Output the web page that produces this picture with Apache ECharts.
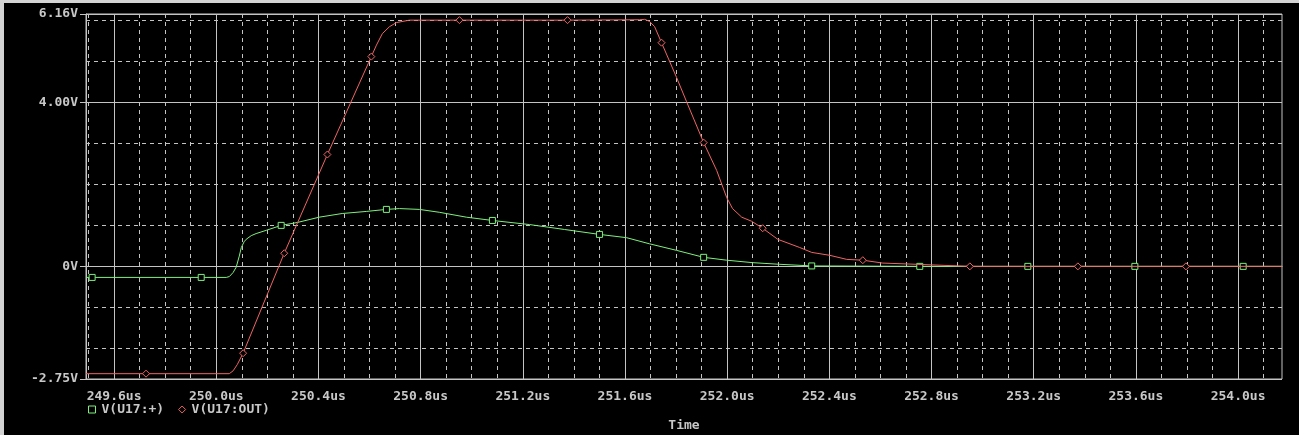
<!DOCTYPE html>
<html><head><meta charset="utf-8">
<script src="https://cdn.jsdelivr.net/npm/echarts@6/dist/echarts.min.js"></script>
<style>
html,body{margin:0;padding:0;background:#d4d4d4;overflow:hidden;width:1299px;height:435px;}
#chart{position:absolute;left:4px;top:3px;width:1295px;height:432px;background:#000;}
</style></head><body><div id="chart"></div>
<script>
// ---- data ----
const xTickValues = [249.6, 250.0, 250.4, 250.8, 251.2, 251.6, 252.0, 252.4, 252.8, 253.2, 253.6, 254.0];
const xTickLabels = ['249.6us','250.0us','250.4us','250.8us','251.2us','251.6us','252.0us','252.4us','252.8us','253.2us','253.6us','254.0us'];
const xMinorValues = [249.5,249.7,249.8,249.9,250.1,250.2,250.3,250.5,250.6,250.7,250.9,251.0,251.1,251.3,251.4,251.5,251.7,251.8,251.9,252.1,252.2,252.3,252.5,252.6,252.7,252.9,253.0,253.1,253.3,253.4,253.5,253.7,253.8,253.9,254.1];
const yTickValues = [-2.75, 0, 4, 6.16];
const yTickLabels = ['-2.75V', '0V', '4.00V', '6.16V'];
const yMinorValues = [-2, -1, 1, 2, 3, 5, 6];
const xRange = [249.49, 254.172];
const yRange = [-2.75, 6.16];
const seriesNames = ['V(U17:+)', 'V(U17:OUT)'];
const axisTitle = 'Time';

const plusTime = [249.490,249.514,249.941,250.039,250.051,250.066,250.078,250.090,250.098,250.109,250.117,250.137,250.156,250.196,250.254,250.317,250.403,250.493,250.587,250.666,250.717,250.795,250.873,250.979,251.081,251.226,251.363,251.500,251.606,251.696,251.802,251.908,251.998,252.100,252.206,252.331,252.754,253.177,253.596,254.020,254.172];
const plusVolt = [-0.27,-0.27,-0.27,-0.27,-0.25,-0.15,-0.02,0.25,0.46,0.60,0.66,0.75,0.80,0.88,1.00,1.07,1.20,1.29,1.34,1.39,1.41,1.39,1.32,1.20,1.12,1.02,0.90,0.78,0.70,0.55,0.39,0.22,0.15,0.09,0.05,0.01,0.00,0.00,0.00,0.00,0.00];
const plusMarkers = [1,2,14,19,24,27,31,35,36,37,38,39];

const outTime = [249.490,249.725,250.051,250.066,250.082,250.105,250.266,250.435,250.607,250.627,250.650,250.678,250.705,250.756,250.952,251.375,251.657,251.677,251.696,251.716,251.743,251.802,251.841,251.908,251.959,251.998,252.021,252.057,252.096,252.139,252.198,252.284,252.331,252.401,252.468,252.531,252.609,252.742,252.950,253.373,253.796,254.172];
const outVolt = [-2.62,-2.62,-2.62,-2.55,-2.40,-2.12,0.32,2.73,5.12,5.40,5.68,5.85,5.95,6.01,6.01,6.01,6.02,6.03,5.98,5.85,5.46,4.61,4.02,3.02,2.34,1.68,1.41,1.20,1.10,0.93,0.66,0.46,0.34,0.27,0.17,0.15,0.08,0.05,0.00,0.00,0.00,0.00];
const outMarkers = [1,5,6,7,8,14,15,20,23,29,35,38,39,40];

// ---- style ----
const GREEN = '#7ef07e', RED = '#f06464', GRID = '#c4c4c4', TXT = '#c8c8c8';
const font = {fontFamily: 'DejaVu Sans Mono', fontWeight: 'bold', fontSize: 13, color: TXT};

function nearestLabel(vals, labels, v) {
  let bi = 0;
  vals.forEach((t, i) => { if (Math.abs(t - v) < Math.abs(vals[bi] - v)) bi = i; });
  return labels[bi];
}
function build(times, volts, markers, sym) {
  return times.map((t, i) => ({value: [t, volts[i]], symbol: markers.includes(i) ? sym : 'none'}));
}

const chart = echarts.init(document.getElementById('chart'), null, {renderer: 'canvas'});
chart.setOption({
  animation: false,
  backgroundColor: '#000',
  textStyle: font,
  grid: {left: 82, right: 17, top: 11, bottom: 56, show: true, borderColor: GRID, borderWidth: 1,
         backgroundColor: '#000', containLabel: false, outerBoundsMode: 'none'},
  legend: {
    left: 84, top: 400, itemWidth: 7, itemHeight: 7, itemGap: 14, padding: 0,
    textStyle: Object.assign({}, font, {padding: [0, 0, 0, 1]}),
    data: [
      {name: seriesNames[0], icon: 'rect', itemStyle: {color: '#000', borderColor: GREEN, borderWidth: 1}},
      {name: seriesNames[1], icon: 'diamond', itemStyle: {color: '#000', borderColor: RED, borderWidth: 1}}
    ]
  },
  xAxis: [
    {type: 'value', min: xRange[0], max: xRange[1], position: 'bottom',
     name: axisTitle, nameLocation: 'middle', nameGap: 40, nameTextStyle: font,
     axisLine: {show: true, lineStyle: {color: GRID}},
     axisTick: {show: true, inside: false, length: 4, customValues: xTickValues, lineStyle: {color: GRID}},
     axisLabel: {show: true, margin: 11, customValues: xTickValues, formatter: v => nearestLabel(xTickValues, xTickLabels, v), ...font},
     splitLine: {show: true, lineStyle: {color: GRID, width: 1, type: 'solid'}}},
    {type: 'value', min: xRange[0], max: xRange[1], position: 'bottom',
     axisLine: {show: false}, axisLabel: {show: false},
     axisTick: {show: false, customValues: xMinorValues},
     splitLine: {show: true, lineStyle: {color: GRID, width: 1, type: [4, 4]}}}
  ],
  yAxis: [
    {type: 'value', min: yRange[0], max: yRange[1], position: 'left',
     axisLine: {show: true, lineStyle: {color: GRID}},
     axisTick: {show: true, inside: false, length: 6, customValues: yTickValues, lineStyle: {color: GRID}},
     axisLabel: {show: true, margin: 8, customValues: yTickValues, formatter: v => nearestLabel(yTickValues, yTickLabels, v), ...font},
     splitLine: {show: true, lineStyle: {color: GRID, width: 1, type: 'solid'}}},
    {type: 'value', min: yRange[0], max: yRange[1], position: 'left',
     axisLine: {show: false}, axisLabel: {show: false},
     axisTick: {show: false, customValues: yMinorValues},
     splitLine: {show: true, lineStyle: {color: GRID, width: 1, type: [4, 4]}}}
  ],
  series: [
    {name: seriesNames[0], type: 'line', xAxisIndex: 0, yAxisIndex: 0,
     data: build(plusTime, plusVolt, plusMarkers, 'rect'),
     symbol: 'rect', symbolSize: 6, showSymbol: true, showAllSymbol: true,
     lineStyle: {color: GREEN, width: 1}, itemStyle: {color: '#000', borderColor: GREEN, borderWidth: 1},
     emphasis: {disabled: true}, z: 3},
    {name: seriesNames[1], type: 'line', xAxisIndex: 0, yAxisIndex: 0,
     data: build(outTime, outVolt, outMarkers, 'diamond'),
     symbol: 'diamond', symbolSize: 7, showSymbol: true, showAllSymbol: true,
     lineStyle: {color: RED, width: 1}, itemStyle: {color: '#000', borderColor: RED, borderWidth: 1},
     emphasis: {disabled: true}, z: 4}
  ]
});
</script></body></html>
